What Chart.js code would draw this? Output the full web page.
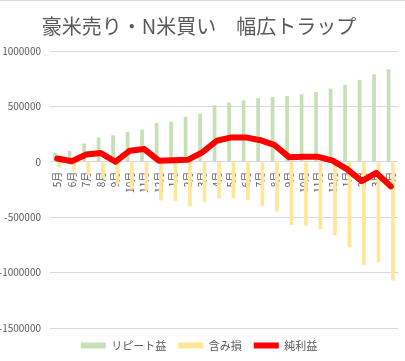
<!DOCTYPE html>
<html lang="ja">
<head>
<meta charset="UTF-8">
<title>豪米売り・N米買い　幅広トラップ</title>
<script src="https://cdn.jsdelivr.net/npm/chart.js"></script>
<style>
  html, body { margin: 0; padding: 0; background: #fff; }
  #wrap { width: 405px; height: 361px; box-sizing: border-box; border-top: 1px solid #d9d9d9; }
</style>
</head>
<body>
<div id="wrap"><canvas id="chart"></canvas></div>
<script>
// data
const months = ["5月", "6月", "7月", "8月", "9月", "10月", "11月", "12月",
  "1月", "2月", "3月", "4月", "5月", "6月", "7月", "8月", "9月", "10月", "11月", "12月",
  "1月", "2月", "3月", "4月"];
const repeatProfit = [80000, 100000, 165000, 220000, 240000, 270000, 290000, 350000,
  360000, 405000, 435000, 510000, 535000, 555000, 575000, 585000, 595000, 610000, 630000, 660000,
  695000, 740000, 790000, 835000];
const unrealizedLoss = [-50000, -80000, -120000, -150000, -200000, -250000, -260000, -350000,
  -355000, -400000, -365000, -330000, -330000, -345000, -398000, -447000, -571000, -577000, -608000, -664000,
  -771000, -932000, -907000, -1071000];
const netProfit = [30000, 5000, 65000, 80000, 0, 100000, 115000, 10000,
  15000, 18000, 85000, 190000, 220000, 220000, 195000, 150000, 40000, 45000, 45000, 10000,
  -68000, -175000, -100000, -222000];
const yTicks = [-1500000, -1000000, -500000, 0, 500000, 1000000];

const font = "'Noto Sans CJK JP', 'Noto Sans', sans-serif";
const gray = "#595959";

new Chart(document.getElementById("chart"), {
  data: {
    labels: months,
    datasets: [
      {
        type: "bar",
        label: "リピート益",
        data: repeatProfit,
        backgroundColor: "#c5e0b4",
        categoryPercentage: 0.6,
        barPercentage: 0.85,
        order: 1
      },
      {
        type: "bar",
        label: "含み損",
        data: unrealizedLoss,
        backgroundColor: "#ffe699",
        categoryPercentage: 0.6,
        barPercentage: 0.85,
        order: 1
      },
      {
        type: "line",
        label: "純利益",
        data: netProfit,
        borderColor: "#ff0000",
        backgroundColor: "#ff0000",
        borderWidth: 6,
        pointRadius: 0,
        tension: 0,
        borderJoinStyle: "round",
        borderCapStyle: "round",
        order: 0
      }
    ]
  },
  options: {
    responsive: true,
    maintainAspectRatio: false,
    animation: false,
    layout: { padding: { left: 0, right: 7, top: 0, bottom: 0 } },
    plugins: {
      title: {
        display: true,
        text: "豪米売り・N米買い　幅広トラップ",
        color: gray,
        font: { family: font, size: 20, weight: "normal" },
        padding: { top: 13, bottom: 13 }
      },
      legend: {
        position: "bottom",
        labels: {
          color: gray,
          font: { family: font, size: 11 },
          boxWidth: 25,
          boxHeight: 6,
          padding: 12,
          generateLabels: chart => {
            const items = Chart.defaults.plugins.legend.labels.generateLabels(chart);
            items.forEach(it => { it.lineWidth = 0; });
            return items.sort((a, b) => a.datasetIndex - b.datasetIndex);
          }
        }
      },
      tooltip: { enabled: false }
    },
    scales: {
      x: {
        position: { y: 0 },
        grid: { display: false },
        border: { display: false },
        ticks: {
          color: gray,
          font: { family: font, size: 10 },
          minRotation: 90,
          maxRotation: 90,
          autoSkip: false,
          padding: 2
        }
      },
      y: {
        min: -1500000,
        max: 1000000,
        afterBuildTicks: axis => { axis.ticks = yTicks.map(v => ({ value: v })); },
        afterFit: axis => { axis.width = 50; },
        grid: { color: "#d9d9d9", drawTicks: false },
        border: { display: false },
        ticks: {
          color: gray,
          font: { family: font, size: 10 },
          padding: 9,
          callback: v => String(v)
        }
      }
    }
  }
});
</script>
</body>
</html>
